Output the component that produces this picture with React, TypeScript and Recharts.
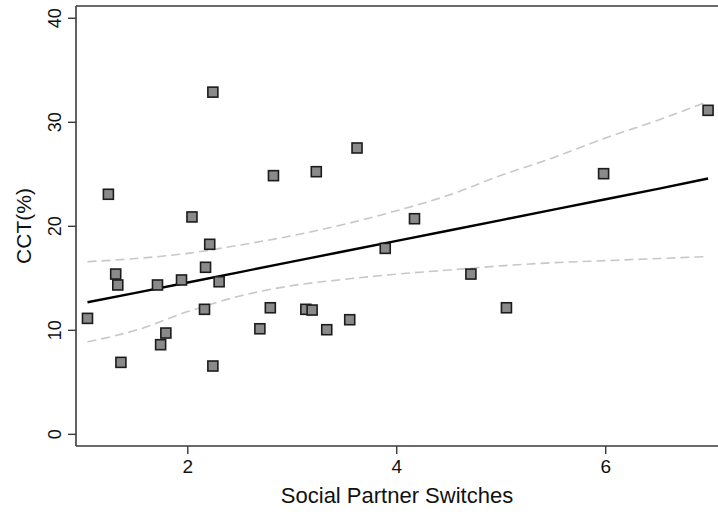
import React from 'react';
import { ComposedChart, Scatter, Line, XAxis, YAxis, ReferenceLine, Label } from 'recharts';

// observed points: social partner switches vs CCT(%)
const switches = [
    1.04, 1.24, 1.31, 1.33, 1.36, 1.71, 1.74, 1.79, 1.94, 2.04, 2.16, 2.17, 2.21, 2.24, 2.24, 2.30,
    2.69, 2.79, 2.82, 3.13, 3.19, 3.23, 3.33, 3.55, 3.62, 3.89, 4.17, 4.71, 5.05, 5.98, 6.98,
];
const cct = [
    11.15, 23.08, 15.41, 14.36, 6.92, 14.36, 8.62, 9.74, 14.84, 20.9, 12.02, 16.06, 18.27, 32.9, 6.57, 14.67,
    10.15, 12.17, 24.87, 12.02, 11.95, 25.25, 10.06, 11.02, 27.53, 17.88, 20.73, 15.41, 12.17, 25.06, 31.15,
];

// fitted line and 95% band
const fitX = [1.04, 1.5, 2, 2.5, 3, 3.5, 4, 4.5, 5, 5.5, 6, 6.5, 6.98];
const fitY = [12.7, 13.6, 14.6, 15.6, 16.6, 17.6, 18.6, 19.6, 20.6, 21.6, 22.6, 23.6, 24.6];
const upperCI = [16.6, 16.9, 17.4, 18.2, 19.1, 20.2, 21.5, 23.0, 24.9, 26.6, 28.5, 30.2, 32.0];
const lowerCI = [8.9, 10.0, 11.8, 13.3, 14.3, 14.9, 15.4, 15.8, 16.2, 16.5, 16.7, 16.9, 17.1];

const xTicks = [2, 4, 6];
const yTicks = [0, 10, 20, 30, 40];

const points = switches.map((x, i) => ({ x, y: cct[i] }));
const band = fitX.map((x, i) => ({ x, fit: fitY[i], upper: upperCI[i], lower: lowerCI[i] }));

const X_DOMAIN: [number, number] = [0.93, 7.075];
const Y_DOMAIN: [number, number] = [-1.12, 41.18];
const FONT = '"Liberation Sans", Arial, sans-serif';
const AXIS_COLOR = '#3a3a3a';

const SquareDot = (props: any) => {
    const { cx, cy } = props;
    return <rect x={cx - 5} y={cy - 5} width={10} height={10} fill="#8a8a8a" stroke="#1c1c1c" strokeWidth={1.6} />;
};

const XTick = (props: any) => {
    const { x, payload } = props;
    return (
        <text x={x} y={473} textAnchor="middle" fontFamily={FONT} fontSize={19} fill="#111">
            {payload.value}
        </text>
    );
};

const YTick = (props: any) => {
    const { y, payload } = props;
    return (
        <text x={61} y={y} transform={`rotate(-90, 61, ${y})`} textAnchor="middle" fontFamily={FONT} fontSize={18} fill="#111">
            {payload.value}
        </text>
    );
};

const YTitle = (props: any) => {
    const { viewBox } = props;
    const cy = viewBox.y + viewBox.height / 2;
    return (
        <text x={31} y={cy} transform={`rotate(-90, 31, ${cy})`} textAnchor="middle" fontFamily={FONT} fontSize={21} fill="#111">
            CCT(%)
        </text>
    );
};

export default function App() {
    return (
        <div style={{ position: 'absolute', left: 0, top: 0, width: 718, height: 515, background: '#fff' }}>
            <ComposedChart width={718} height={515} margin={{ top: 6, right: 0, bottom: 0, left: 0 }}>
                <XAxis
                    type="number"
                    dataKey="x"
                    domain={X_DOMAIN}
                    ticks={xTicks}
                    height={69}
                    tickSize={8}
                    tick={<XTick />}
                    axisLine={{ stroke: AXIS_COLOR, strokeWidth: 1.6 }}
                    tickLine={{ stroke: AXIS_COLOR, strokeWidth: 1.4 }}
                >
                    <Label
                        value="Social Partner Switches"
                        position="insideBottom"
                        offset={12}
                        style={{ fontFamily: FONT, fontSize: 22, fill: '#111' }}
                    />
                </XAxis>
                <YAxis
                    type="number"
                    domain={Y_DOMAIN}
                    ticks={yTicks}
                    width={76}
                    tickSize={8}
                    tick={<YTick />}
                    axisLine={{ stroke: AXIS_COLOR, strokeWidth: 1.6 }}
                    tickLine={{ stroke: AXIS_COLOR, strokeWidth: 1.4 }}
                >
                    <Label content={<YTitle />} />
                </YAxis>
                <ReferenceLine y={Y_DOMAIN[1]} stroke={AXIS_COLOR} strokeWidth={1.6} />
                <Line
                    data={band}
                    dataKey="upper"
                    type="monotone"
                    stroke="#c8c8c8"
                    strokeWidth={1.6}
                    strokeDasharray="9 5"
                    dot={false}
                    isAnimationActive={false}
                />
                <Line
                    data={band}
                    dataKey="lower"
                    type="monotone"
                    stroke="#c8c8c8"
                    strokeWidth={1.6}
                    strokeDasharray="9 5"
                    dot={false}
                    isAnimationActive={false}
                />
                <Line
                    data={band}
                    dataKey="fit"
                    stroke="#000"
                    strokeWidth={2.4}
                    dot={false}
                    isAnimationActive={false}
                />
                <Scatter data={points} dataKey="y" shape={<SquareDot />} isAnimationActive={false} />
            </ComposedChart>
        </div>
    );
}
